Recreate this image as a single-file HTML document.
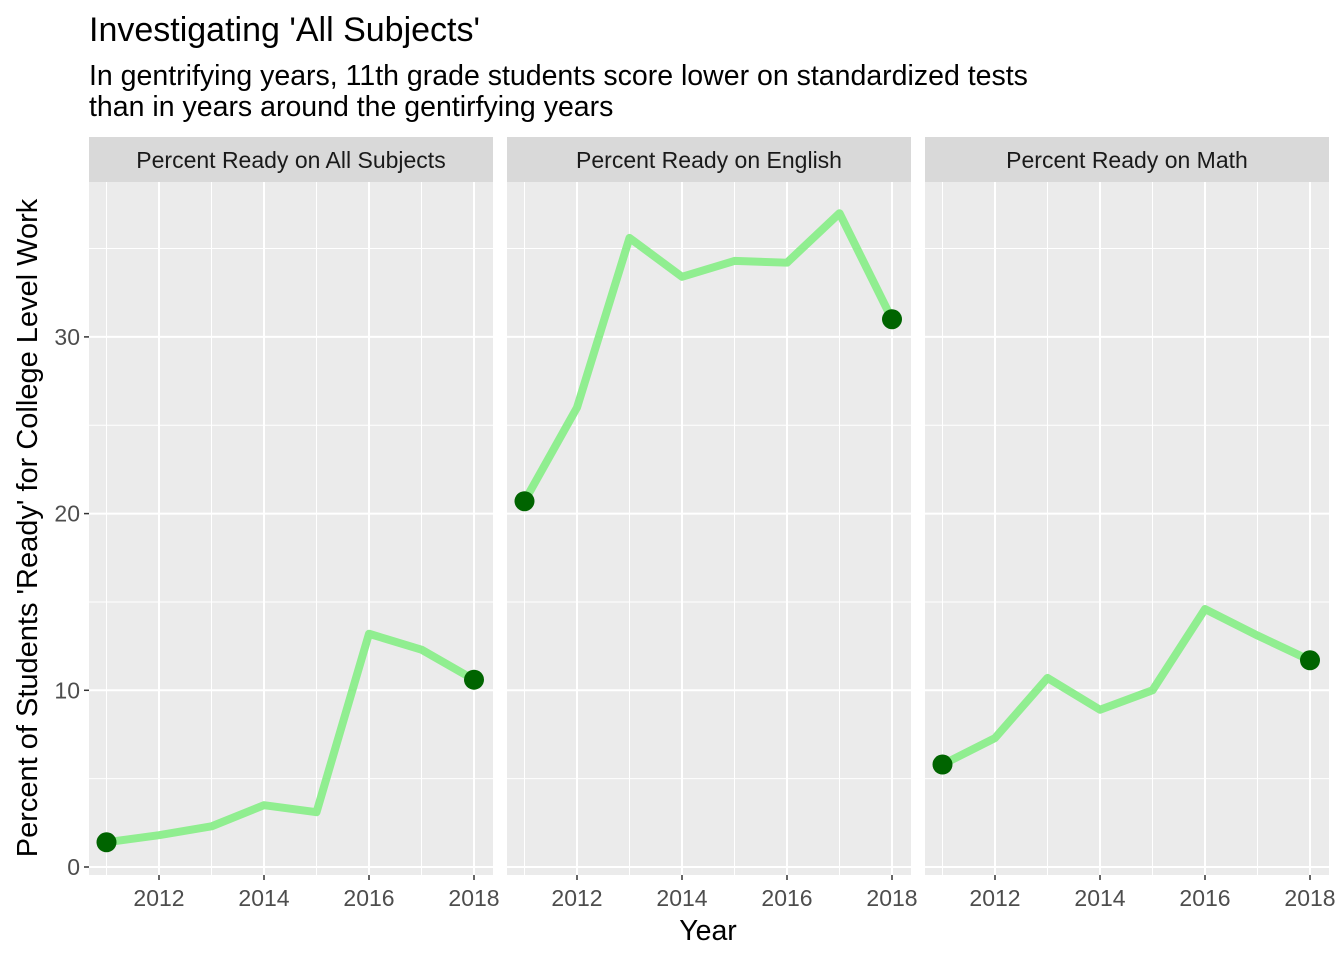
<!DOCTYPE html>
<html><head><meta charset="utf-8"><style>
body{margin:0;background:#fff;}
svg text{font-family:"Liberation Sans",Arial,sans-serif;}
</style></head><body>
<svg id="c" width="1344" height="960" xmlns="http://www.w3.org/2000/svg">
<text x="89" y="41" font-size="34" fill="#000">Investigating 'All Subjects'</text>
<text x="89" y="85" font-size="28.5" fill="#000">In gentrifying years, 11th grade students score lower on standardized tests</text>
<text x="89" y="116" font-size="28.5" fill="#000">than in years around the gentirfying years</text>
<text x="708" y="940" font-size="28.5" text-anchor="middle" fill="#000">Year</text>
<text transform="translate(37,528) rotate(-90)" font-size="29" text-anchor="middle" fill="#000">Percent of Students 'Ready' for College Level Work</text>
<g id="plots"></g>
</svg>
<script>
const years=[2011,2012,2013,2014,2015,2016,2017,2018];
const panelTitles=["Percent Ready on All Subjects","Percent Ready on English","Percent Ready on Math"];
const allSubjects=[1.4,1.8,2.3,3.5,3.1,13.2,12.3,10.6];
const english=[20.7,26.0,35.6,33.4,34.3,34.2,37.0,31.0];
const math=[5.8,7.3,10.7,8.9,10.0,14.6,13.1,11.7];
const yTicks=[0,10,20,30];
const xTicks=[2012,2014,2016,2018];
const series=[allSubjects,english,math];
const NS="http://www.w3.org/2000/svg";
const plotsG=document.getElementById('plots');
const panelLeft=[89,507,925],pw=404,ptop=182,pbot=875;
const yS=v=>867-v*17.67;
function mk(t,a,p){const e=document.createElementNS(NS,t);for(const k in a)e.setAttribute(k,a[k]);(p||plotsG).appendChild(e);return e;}
for(let i=0;i<3;i++){
 const L=panelLeft[i];
 const xS=yr=>L+17.5+(yr-2011)*52.5;
 const pg=mk('g',{});
 
 
 const strip=mk('rect',{x:L,y:137,width:pw,height:45,fill:'#d9d9d9'},pg);
 
 
 const st=mk('text',{x:L+pw/2,y:168,'font-size':23,'text-anchor':'middle',fill:'#1a1a1a'},pg);st.textContent=panelTitles[i];
 
 
 const bg=mk('rect',{x:L,y:ptop,width:pw,height:pbot-ptop,fill:'#ebebeb'},pg);
 
 
 [5,15,25,35].forEach(v=>mk('line',{x1:L,x2:L+pw,y1:yS(v),y2:yS(v),stroke:'#fff','stroke-width':1},pg));
 [2011,2013,2015,2017].forEach(v=>mk('line',{x1:xS(v),x2:xS(v),y1:ptop,y2:pbot,stroke:'#fff','stroke-width':1},pg));
 yTicks.forEach(v=>{mk('line',{x1:L,x2:L+pw,y1:yS(v),y2:yS(v),stroke:'#fff','stroke-width':2},pg);});
 xTicks.forEach(v=>{
  mk('line',{x1:xS(v),x2:xS(v),y1:ptop,y2:pbot,stroke:'#fff','stroke-width':2},pg);
  mk('line',{x1:xS(v),x2:xS(v),y1:pbot,y2:pbot+5,stroke:'#333','stroke-width':1.5},pg);
  const t=mk('text',{x:xS(v),y:906,'font-size':23,'text-anchor':'middle',fill:'#4d4d4d'},pg);t.textContent=v;
  
  
 });
 if(i===0){yTicks.forEach(v=>{
  mk('line',{x1:L-5,x2:L,y1:yS(v),y2:yS(v),stroke:'#333','stroke-width':1.5},pg);
  const t=mk('text',{x:L-9,y:yS(v)+8,'font-size':23,'text-anchor':'end',fill:'#4d4d4d'},pg);t.textContent=v;
  
  
 });}
 const d=series[i].map((v,j)=>(j?'L':'M')+xS(years[j])+','+yS(v)).join(' ');
 const ln=mk('path',{d:d,fill:'none',stroke:'#90ee90','stroke-width':8,'stroke-linejoin':'round'},pg);
 
 
 [0,years.length-1].forEach(j=>{
  const c=mk('circle',{cx:xS(years[j]),cy:yS(series[i][j]),r:10,fill:'#006400'},pg);
  
  
 });
}
</script>
</body></html>
